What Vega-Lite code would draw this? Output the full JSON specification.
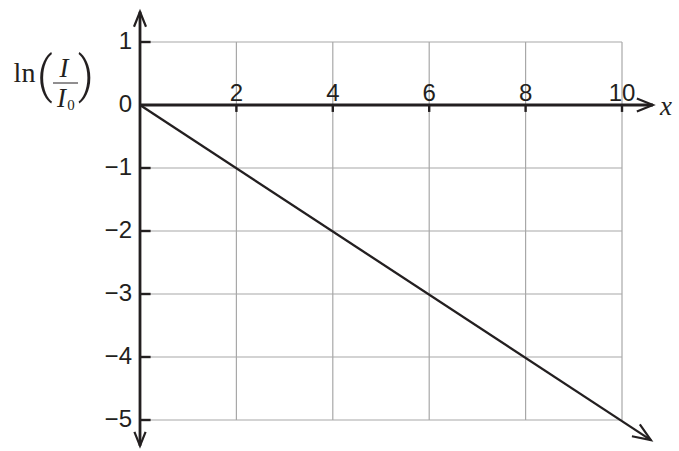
{
  "$schema": "https://vega.github.io/schema/vega-lite/v6.json",
  "width": 679,
  "height": 451,
  "autosize": "none",
  "padding": 0,
  "background": "white",
  "config": {"view": {"stroke": null}},
  "datasets": {
    "grid": [
      {"x": 0, "x2": 10, "y": 1, "y2": 1},
      {"x": 0, "x2": 10, "y": -1, "y2": -1},
      {"x": 0, "x2": 10, "y": -2, "y2": -2},
      {"x": 0, "x2": 10, "y": -3, "y2": -3},
      {"x": 0, "x2": 10, "y": -4, "y2": -4},
      {"x": 0, "x2": 10, "y": -5, "y2": -5},
      {"x": 2, "x2": 2, "y": -5, "y2": 1},
      {"x": 4, "x2": 4, "y": -5, "y2": 1},
      {"x": 6, "x2": 6, "y": -5, "y2": 1},
      {"x": 8, "x2": 8, "y": -5, "y2": 1},
      {"x": 10, "x2": 10, "y": -5, "y2": 1}
    ],
    "axes": [
      {"x": 0, "x2": 0, "y": -5.41, "y2": 1.48},
      {"x": 0, "x2": 10.64, "y": 0, "y2": 0}
    ],
    "ticks": [
      {"x": 0, "x2": 0.22, "y": 1, "y2": 1},
      {"x": 0, "x2": 0.22, "y": -1, "y2": -1},
      {"x": 0, "x2": 0.22, "y": -2, "y2": -2},
      {"x": 0, "x2": 0.22, "y": -3, "y2": -3},
      {"x": 0, "x2": 0.22, "y": -4, "y2": -4},
      {"x": 0, "x2": 0.22, "y": -5, "y2": -5},
      {"x": 2, "x2": 2, "y": 0, "y2": -0.11},
      {"x": 4, "x2": 4, "y": 0, "y2": -0.11},
      {"x": 6, "x2": 6, "y": 0, "y2": -0.11},
      {"x": 8, "x2": 8, "y": 0, "y2": -0.11},
      {"x": 10, "x2": 10, "y": 0, "y2": -0.11}
    ],
    "series": [
      {"x": 0, "y": 0},
      {"x": 10.6, "y": -5.32}
    ],
    "arrows": [
      {"x": 10.64, "y": 0, "angle": 0, "size": 1024},
      {"x": 0, "y": 1.48, "angle": 270, "size": 900},
      {"x": 0, "y": -5.41, "angle": 90, "size": 784},
      {"x": 10.6, "y": -5.32, "angle": 33.3, "size": 1296}
    ],
    "xlabels": [
      {"x": 2, "y": 0.063, "label": "2"},
      {"x": 4, "y": 0.063, "label": "4"},
      {"x": 6, "y": 0.063, "label": "6"},
      {"x": 8, "y": 0.063, "label": "8"},
      {"x": 10, "y": 0.063, "label": "10"}
    ],
    "ylabels": [
      {"x": -0.166, "y": 1, "label": "1"},
      {"x": -0.166, "y": 0, "label": "0"},
      {"x": -0.166, "y": -1, "label": "−1"},
      {"x": -0.166, "y": -2, "label": "−2"},
      {"x": -0.166, "y": -3, "label": "−3"},
      {"x": -0.166, "y": -4, "label": "−4"},
      {"x": -0.166, "y": -5, "label": "−5"}
    ],
    "titleUpright": [
      {"x": -2.396, "y": 0.365, "label": "ln", "size": 28},
      {"x": -1.432, "y": -0.079, "label": "0", "size": 15}
    ],
    "parens": [
      {"x": -1.975, "y": 0.2, "label": "("},
      {"x": -1.12, "y": 0.2, "label": ")"}
    ],
    "titleItalic": [
      {"x": -1.577, "y": 0.444, "label": "I", "size": 27},
      {"x": -1.629, "y": -0.032, "label": "I", "size": 27},
      {"x": 10.913, "y": -0.159, "label": "x", "size": 27}
    ],
    "fractionBar": [
      {"x": -1.805, "x2": -1.286, "y": 0.349, "y2": 0.349}
    ]
  },
  "encoding": {
    "x": {
      "field": "x",
      "type": "quantitative",
      "scale": {"domain": [-2.9046, 11.1826], "nice": false, "zero": false},
      "axis": null
    },
    "y": {
      "field": "y",
      "type": "quantitative",
      "scale": {"domain": [-5.4921, 1.6667], "nice": false, "zero": false},
      "axis": null
    }
  },
  "layer": [
    {
      "data": {"name": "grid"},
      "mark": {"type": "rule", "stroke": "#a8a8a8", "strokeWidth": 1.2},
      "encoding": {"x2": {"field": "x2"}, "y2": {"field": "y2"}}
    },
    {
      "data": {"name": "series"},
      "mark": {"type": "line", "stroke": "#231f20", "strokeWidth": 2.3},
      "encoding": {}
    },
    {
      "data": {"name": "axes"},
      "mark": {"type": "rule", "stroke": "#231f20", "strokeWidth": 2.8},
      "encoding": {"x2": {"field": "x2"}, "y2": {"field": "y2"}}
    },
    {
      "data": {"name": "ticks"},
      "mark": {"type": "rule", "stroke": "#231f20", "strokeWidth": 2.4},
      "encoding": {"x2": {"field": "x2"}, "y2": {"field": "y2"}}
    },
    {
      "data": {"name": "arrows"},
      "mark": {
        "type": "point",
        "shape": "M-1,-0.4L0,0L-1,0.4",
        "filled": false,
        "stroke": "#231f20",
        "strokeWidth": 2.2,
        "opacity": 1
      },
      "encoding": {
        "angle": {"field": "angle", "type": "quantitative", "scale": null},
        "size": {"field": "size", "type": "quantitative", "scale": null}
      }
    },
    {
      "data": {"name": "xlabels"},
      "mark": {
        "type": "text",
        "align": "center",
        "baseline": "alphabetic",
        "font": "Liberation Sans",
        "fontSize": 24,
        "fill": "#231f20"
      },
      "encoding": {"text": {"field": "label"}}
    },
    {
      "data": {"name": "ylabels"},
      "mark": {
        "type": "text",
        "align": "right",
        "baseline": "middle",
        "font": "Liberation Sans",
        "fontSize": 24,
        "fill": "#231f20"
      },
      "encoding": {"text": {"field": "label"}}
    },
    {
      "data": {"name": "titleUpright"},
      "mark": {
        "type": "text",
        "align": "center",
        "baseline": "alphabetic",
        "font": "Liberation Serif",
        "fill": "#231f20"
      },
      "encoding": {
        "text": {"field": "label"},
        "size": {"field": "size", "type": "quantitative", "scale": null}
      }
    },
    {
      "data": {"name": "parens"},
      "mark": {
        "type": "text",
        "align": "center",
        "baseline": "alphabetic",
        "font": "Roboto",
        "fontWeight": 300,
        "fontSize": 50,
        "fill": "#231f20"
      },
      "encoding": {"text": {"field": "label"}}
    },
    {
      "data": {"name": "titleItalic"},
      "mark": {
        "type": "text",
        "align": "center",
        "baseline": "alphabetic",
        "font": "Liberation Serif",
        "fontStyle": "italic",
        "fill": "#231f20"
      },
      "encoding": {
        "text": {"field": "label"},
        "size": {"field": "size", "type": "quantitative", "scale": null}
      }
    },
    {
      "data": {"name": "fractionBar"},
      "mark": {"type": "rule", "stroke": "#231f20", "strokeWidth": 1},
      "encoding": {"x2": {"field": "x2"}, "y2": {"field": "y2"}}
    }
  ]
}
